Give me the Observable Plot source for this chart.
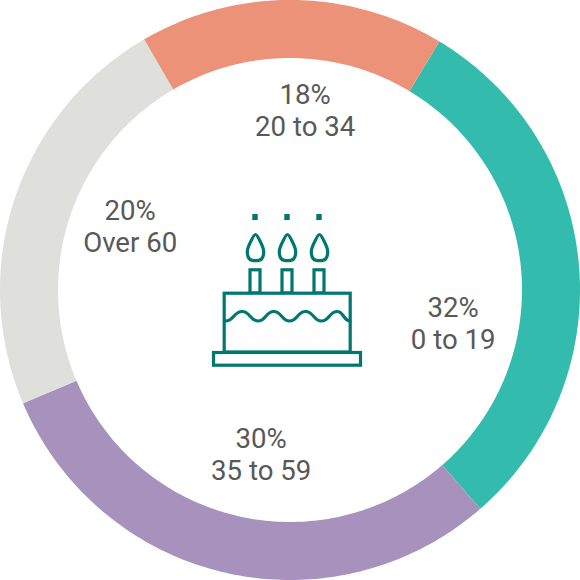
<!DOCTYPE html>
<html>
<head>
<meta charset="utf-8">
<script src="https://cdn.jsdelivr.net/npm/d3@7"></script>
<script src="https://cdn.jsdelivr.net/npm/@observablehq/plot@0.6"></script>
<style>
html,body{margin:0;padding:0;background:#fff}
svg{display:block}
</style>
</head>
<body>
<div id="chart"></div>
<script>
// Groups, clockwise from the teal slice
const ages = ["0 to 19", "35 to 59", "Over 60", "20 to 34"];
const labelPercents = [32, 30, 20, 18];
// Drawn shares read from the ring (differ from the printed labels)
const arcShares = [30, 30, 23, 17];
const colors = ["#33bcad", "#a791bd", "#dfdfdb", "#ec9278"];
const labelX = [452.7, 260.7, 129.7, 304.7];
const labelY = [324, 455, 227, 111];

// Cake icon parts
const cakeInk = "#00776f";
const sparkX = [255, 287, 319];
const candleX = [255, 287, 319];
const waveX = [225, 241.7, 257.5, 273.3, 289, 305, 321, 336.7, 349.5];
const waveY = [320.5, 311, 320.5, 311, 320.5, 311, 320.5, 311, 320.5];
const flameDX = [0, 4.5, 8.2, 6, 0, -6, -8.2, -4.5];
const flameY = [234, 240.5, 251, 258.5, 260.2, 258.5, 251, 240.5];

const startAngle = 31, cx = 290, cy = 290, rOuter = 290, rInner = 232;
const ring = [];
let a0 = startAngle;
ages.forEach((age, i) => {
  const sweep = arcShares[i] / d3.sum(arcShares) * 360;
  const n = Math.ceil(sweep);
  for (let k = 0; k <= n; k++) {
    const t = (a0 + sweep * k / n) * Math.PI / 180;
    ring.push({
      age,
      x1: cx + rOuter * Math.sin(t), y1: cy - rOuter * Math.cos(t),
      x2: cx + rInner * Math.sin(t), y2: cy - rInner * Math.cos(t)
    });
  }
  a0 += sweep;
});
const labels = ages.map((age, i) => ({
  text: `${labelPercents[i]}%\n${age}`, x: labelX[i], y: labelY[i]
}));
const flames = candleX.flatMap((c, j) =>
  flameDX.map((dx, k) => ({ j, x: c + dx, y: flameY[k] })));
const wave = waveX.map((x, i) => ({ x, y: waveY[i] }));

const chart = Plot.plot({
  width: 580, height: 580, margin: 0,
  x: { domain: [0, 580], range: [0, 580], axis: null },
  y: { domain: [0, 580], range: [0, 580], axis: null },
  color: { domain: ages, range: colors },
  style: { background: "#fff", fontFamily: "Roboto, sans-serif" },
  marks: [
    Plot.area(ring, { x1: "x1", y1: "y1", x2: "x2", y2: "y2", z: "age", fill: "age" }),
    Plot.text(labels, {
      x: "x", y: "y", text: "text", fill: "#585858", fontSize: 27.6,
      lineHeight: 32 / 27.6, textAnchor: "middle", fontFamily: "Roboto", dy: -2
    }),
    // sparks
    Plot.rect(sparkX, { x1: d => d - 2.7, x2: d => d + 2.7, y1: 214, y2: 220, fill: cakeInk }),
    // flames
    Plot.line(flames, { x: "x", y: "y", z: "j", curve: "catmull-rom-closed", stroke: cakeInk, strokeWidth: 3.2 }),
    // candles
    Plot.rect(candleX, { x1: d => d - 5, x2: d => d + 5, y1: 269.8, y2: 293, fill: "#fff", stroke: cakeInk, strokeWidth: 3.2 }),
    // body
    Plot.rect([0], { x1: 224.2, x2: 350.2, y1: 293.2, y2: 352, fill: "#fff", stroke: cakeInk, strokeWidth: 3.2 }),
    // icing wave
    Plot.line(wave, { x: "x", y: "y", curve: "bump-x", stroke: cakeInk, strokeWidth: 3.2 }),
    // plate
    Plot.rect([0], { x1: 213.5, x2: 360.5, y1: 352.5, y2: 365.2, fill: "#fff", stroke: cakeInk, strokeWidth: 3.2 })
  ]
});
document.getElementById("chart").append(chart);
</script>
</body>
</html>
